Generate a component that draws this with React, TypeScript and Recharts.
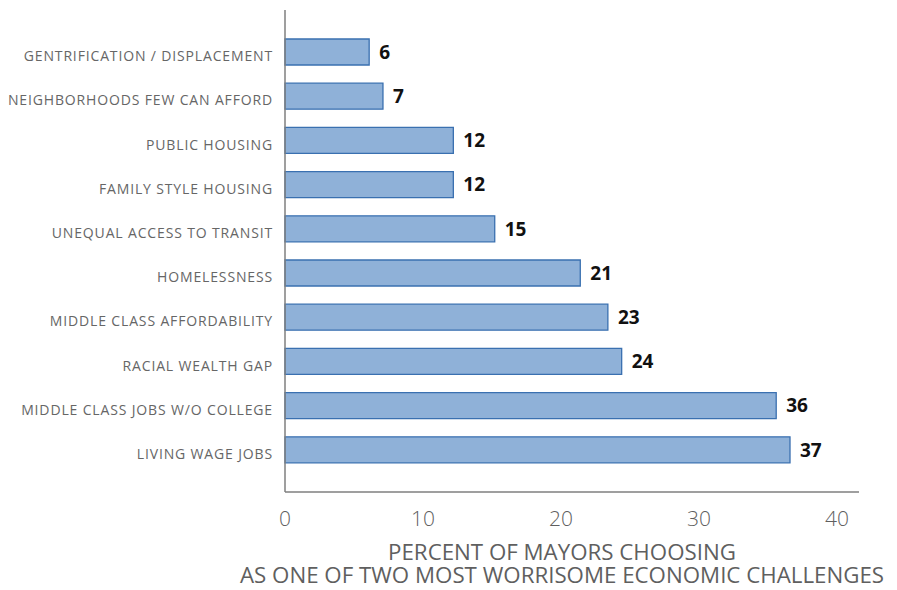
import { BarChart, Bar, XAxis, YAxis, LabelList } from 'recharts'

const categories = [
  'GENTRIFICATION / DISPLACEMENT',
  'NEIGHBORHOODS FEW CAN AFFORD',
  'PUBLIC HOUSING',
  'FAMILY STYLE HOUSING',
  'UNEQUAL ACCESS TO TRANSIT',
  'HOMELESSNESS',
  'MIDDLE CLASS AFFORDABILITY',
  'RACIAL WEALTH GAP',
  'MIDDLE CLASS JOBS W/O COLLEGE',
  'LIVING WAGE JOBS',
]

// bar lengths; the printed labels are the rounded values
const values = [6.1, 7.1, 12.2, 12.2, 15.2, 21.4, 23.4, 24.4, 35.6, 36.6]
const labels = [6, 7, 12, 12, 15, 21, 23, 24, 36, 37]

const xTicks = [0, 10, 20, 30, 40]

const titleLines = ['PERCENT OF MAYORS CHOOSING', 'AS ONE OF TWO MOST WORRISOME ECONOMIC CHALLENGES']

const data = categories.map((name, i) => ({ name, value: values[i], label: labels[i] }))

const FONT = '"Open Sans", "DejaVu Sans", sans-serif'
const GREY = '#5f5f5f'

const CategoryTick = ({ x, y, payload }: { x?: number; y?: number; payload?: { value: string } }) => (
  <text
    x={x}
    y={y}
    dy={9}
    textAnchor="end"
    fill="#666"
    fontSize={14}
    letterSpacing={0.85}
    fontFamily={FONT}
  >
    {payload?.value}
  </text>
)

export default function App() {
  return (
    <div style={{ position: 'absolute', left: 0, top: 0, width: 897, height: 590, background: '#fff' }}>
      <BarChart
        width={897}
        height={590}
        data={data}
        layout="vertical"
        margin={{ top: 10, right: 38, left: 0, bottom: 0 }}
      >
        <XAxis
          type="number"
          domain={[0, 41.6]}
          ticks={xTicks}
          height={98}
          axisLine={{ stroke: '#7f7f7f', strokeWidth: 1.5 }}
          tickLine={false}
          tickSize={0}
          tickMargin={19}
          tick={{ fill: GREY, fontSize: 21, fontFamily: FONT, fontWeight: 300 }}
        />
        <YAxis
          type="category"
          dataKey="name"
          width={285}
          padding={{ top: 20, bottom: 20 }}
          axisLine={{ stroke: '#7f7f7f', strokeWidth: 1.5 }}
          tickLine={false}
          tickSize={0}
          tickMargin={12}
          interval={0}
          tick={<CategoryTick />}
        />
        <Bar
          dataKey="value"
          barSize={26}
          fill="#8fb1d8"
          stroke="#3a70b0"
          strokeWidth={1.3}
          isAnimationActive={false}
        >
          <LabelList
            dataKey="label"
            position="right"
            offset={10}
            fill="#111"
            fontSize={19}
            fontWeight={700}
            fontFamily={FONT}
          />
        </Bar>
      </BarChart>
      {titleLines.map((line, i) => (
        <div
          key={line}
          style={{
            position: 'absolute',
            left: 227,
            top: 540 + i * 23,
            width: 670,
            textAlign: 'center',
            fontFamily: FONT,
            fontSize: 22.3,
            lineHeight: '23px',
            color: GREY,
            whiteSpace: 'nowrap',
          }}
        >
          {line}
        </div>
      ))}
    </div>
  )
}
